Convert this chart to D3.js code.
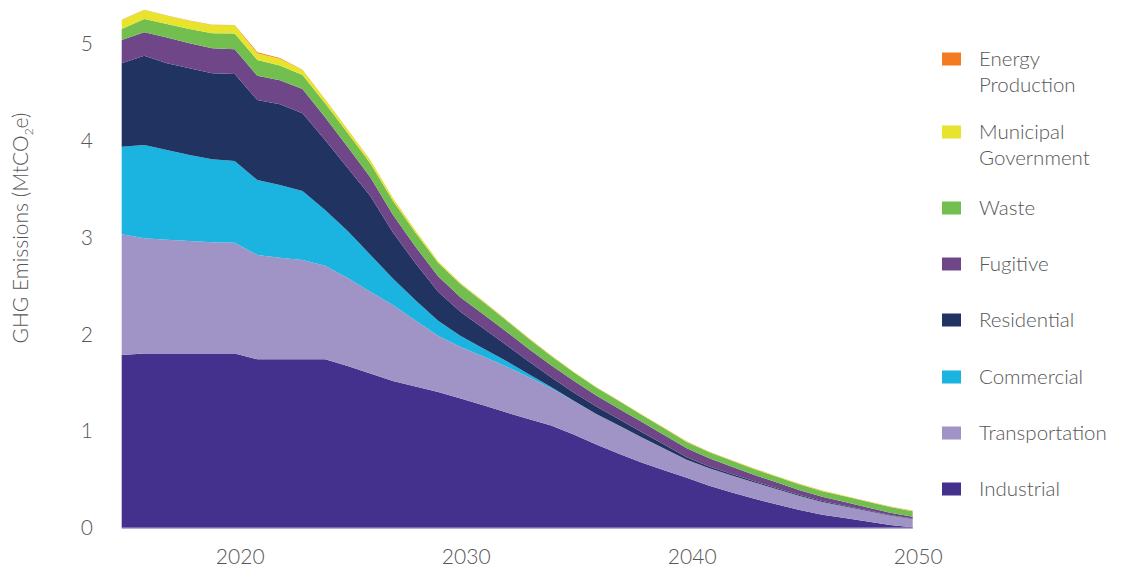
<!DOCTYPE html>
<html>
<head>
<meta charset="utf-8">
<script src="https://cdn.jsdelivr.net/npm/d3@7"></script>
<style>
  html, body { margin: 0; padding: 0; background: #fff; }
  svg text { font-family: Lato, "Open Sans", sans-serif; font-weight: 300; fill: #575757; }
</style>
</head>
<body>
<svg id="chart" width="1124" height="568"></svg>
<script>
const years = [2015,2016,2017,2018,2019,2020,2021,2022,2023,2024,2025,2026,2027,2028,2029,2030,2031,2032,2033,2034,2035,2036,2037,2038,2039,2040,2041,2042,2043,2044,2045,2046,2047,2048,2049,2050];
const industrial = [1.79,1.806,1.806,1.806,1.806,1.806,1.746,1.746,1.746,1.746,1.677,1.599,1.522,1.465,1.408,1.342,1.271,1.198,1.129,1.063,0.970,0.865,0.771,0.680,0.600,0.523,0.439,0.370,0.305,0.246,0.189,0.140,0.106,0.070,0.034,0.01];
const transportation = [1.247,1.190,1.176,1.162,1.149,1.145,1.077,1.050,1.026,0.967,0.909,0.844,0.785,0.681,0.580,0.531,0.503,0.475,0.435,0.385,0.344,0.315,0.289,0.260,0.225,0.185,0.181,0.176,0.168,0.158,0.144,0.132,0.120,0.109,0.097,0.086];
const commercial = [0.905,0.964,0.927,0.888,0.857,0.844,0.775,0.751,0.713,0.575,0.486,0.382,0.273,0.211,0.155,0.114,0.083,0.057,0.031,0.012,0.004,0.002,0.001,0,0,0,0,0,0,0,0,0,0,0,0,0];
const residential = [0.862,0.922,0.896,0.896,0.888,0.899,0.826,0.834,0.803,0.723,0.651,0.607,0.475,0.382,0.300,0.248,0.210,0.166,0.131,0.100,0.085,0.075,0.065,0.055,0.040,0.025,0.018,0.015,0.013,0.011,0.010,0.009,0.008,0.007,0.006,0.005];
const fugitive = [0.241,0.242,0.264,0.258,0.258,0.255,0.251,0.248,0.25,0.235,0.215,0.195,0.185,0.17,0.16,0.15,0.145,0.14,0.13,0.125,0.12,0.115,0.11,0.105,0.10,0.095,0.085,0.075,0.065,0.058,0.05,0.044,0.038,0.03,0.024,0.018];
const waste = [0.114,0.137,0.14,0.148,0.155,0.162,0.162,0.152,0.145,0.145,0.145,0.145,0.145,0.145,0.14,0.135,0.125,0.115,0.105,0.095,0.088,0.083,0.078,0.073,0.068,0.064,0.062,0.061,0.06,0.06,0.06,0.059,0.059,0.058,0.058,0.058];
const municipal = [0.093,0.093,0.086,0.085,0.086,0.086,0.07,0.07,0.052,0.04,0.035,0.03,0.025,0.02,0.015,0.01,0.008,0.006,0.005,0.005,0.005,0.004,0.004,0.004,0.004,0.004,0.004,0.004,0.004,0.004,0.004,0.004,0.004,0.004,0.004,0.004];
const energy = [0.002,0.002,0.002,0.002,0.002,0.002,0.012,0.008,0.003,0.002,0.002,0.002,0.002,0.002,0.002,0.002,0.002,0.002,0.002,0.002,0.002,0.002,0.002,0.002,0.002,0.002,0.002,0.002,0.002,0.002,0.002,0.002,0.002,0.002,0.002,0.002];

const seriesNames = ["Industrial","Transportation","Commercial","Residential","Fugitive","Waste","Municipal Government","Energy Production"];
const seriesValues = [industrial, transportation, commercial, residential, fugitive, waste, municipal, energy];
const seriesColors = ["#44318d","#a094c6","#1bb3e0","#213361","#6f4687","#72bf4f","#e8e42e","#f47c20"];
const legendLabels = [["Energy","Production"],["Municipal","Government"],["Waste"],["Fugitive"],["Residential"],["Commercial"],["Transportation"],["Industrial"]];
const xTicks = [2020, 2030, 2040, 2050];
const yTicks = [0, 1, 2, 3, 4, 5];

const rows = years.map((yr, i) => {
  const r = { year: yr };
  seriesNames.forEach((n, k) => r[n] = seriesValues[k][i]);
  return r;
});

const svg = d3.select("#chart");
const x = d3.scaleLinear().domain([2015, 2050]).range([121.7, 912.7]);
const y = d3.scaleLinear().domain([0, 5]).range([528.3, 44.3]);

const layers = d3.stack().keys(seriesNames)(rows);

const area = d3.area()
  .x(d => x(d.data.year))
  .y0(d => y(d[0]))
  .y1(d => y(d[1]))
  .curve(d3.curveLinear);

svg.append("g").selectAll("path")
  .data(layers)
  .join("path")
  .attr("d", area)
  .attr("fill", (d, i) => seriesColors[i]);

// baseline
svg.append("line")
  .attr("x1", x(2015)).attr("x2", x(2050))
  .attr("y1", y(0)).attr("y2", y(0))
  .attr("stroke", "#b3aed0").attr("stroke-width", 1.5);

// x axis labels
const xAxis = d3.axisBottom(x).tickValues(xTicks).tickFormat(d3.format("d")).tickSize(0);
const gx = svg.append("g").attr("transform", `translate(5,${y(0)})`).call(xAxis);
gx.select(".domain").remove();
gx.selectAll("text").attr("dy", null).attr("y", 36).style("font-size", "21px")
  .style("font-family", "Lato, sans-serif").style("font-weight", "300").attr("fill", "#575757");

// y axis labels
const yAxis = d3.axisLeft(y).tickValues(yTicks).tickFormat(d3.format("d")).tickSize(0);
const gy = svg.append("g").attr("transform", `translate(93,-1)`).call(yAxis);
gy.select(".domain").remove();
gy.selectAll("text").attr("x", 0).attr("dy", "0.35em").style("font-size", "21px")
  .style("font-family", "Lato, sans-serif").style("font-weight", "300").attr("fill", "#575757");

// y axis title
const title = svg.append("text")
  .attr("transform", "translate(28,228) rotate(-90)")
  .attr("text-anchor", "middle")
  .style("font-size", "21px");
title.append("tspan").text("GHG Emissions (MtCO");
title.append("tspan").text("2").attr("dy", 5).style("font-size", "12px");
title.append("tspan").text("e)").attr("dy", -5);

// legend
const legendY = [59, 132, 208, 264, 320, 377, 433, 489];
const legendColorsTopDown = seriesColors.slice().reverse();
const lg = svg.append("g");
legendLabels.forEach((lines, i) => {
  const cy = legendY[i];
  lg.append("rect").attr("x", 942).attr("y", cy - 6.5).attr("width", 19).attr("height", 13)
    .attr("fill", legendColorsTopDown[i]);
  lines.forEach((t, j) => {
    lg.append("text").attr("x", 979).attr("y", cy + j * 26).attr("dy", "0.35em")
      .style("font-size", "20.5px").text(t);
  });
});
</script>
</body>
</html>
